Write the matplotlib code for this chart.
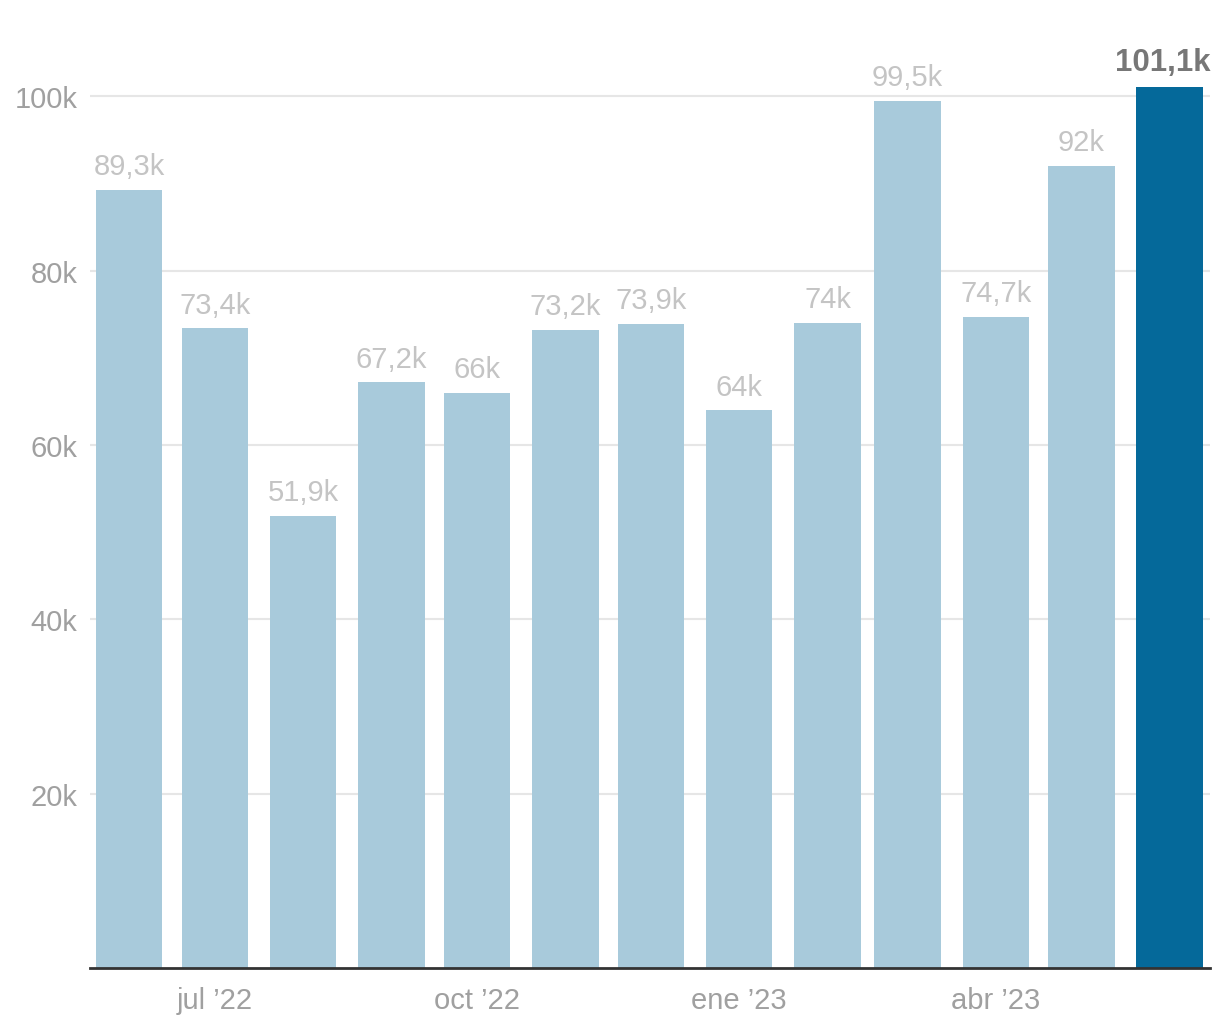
import pandas as pd
import matplotlib
matplotlib.use("Agg")
import matplotlib.dates as mdates
from matplotlib import pyplot as plt

plt.rcParams['font.family'] = ['Liberation Sans', 'DejaVu Sans']

# monthly values, thousands
months = pd.date_range('2022-06-01', periods=13, freq='MS')
values = [89.3, 73.4, 51.9, 67.2, 66.0, 73.2, 73.9, 64.0, 74.0, 99.5, 74.7, 92.0, 101.1]
tick_idx = [1, 4, 7, 10]
tick_labels = ['jul \u201922', 'oct \u201922', 'ene \u201923', 'abr \u201923']
yticks = [20, 40, 60, 80, 100]

light = '#a8cadb'
dark = '#05699a'
bar_w = 23.3


def fmt(v):
    if v == int(v):
        return '%dk' % v
    return ('%.1fk' % v).replace('.', ',')


fig = plt.figure(figsize=(12.2, 10.2), dpi=100)
ax = fig.add_axes([90 / 1220, 51 / 1020, 1120 / 1220, 970 / 1020])

x = mdates.date2num(months) + 1
colors = [light] * (len(values) - 1) + [dark]
ax.bar(x, values, width=bar_w, align='edge', color=colors, zorder=2)

for i, (xi, v) in enumerate(zip(x, values)):
    last = i == len(values) - 1
    ax.annotate(fmt(v), (xi + bar_w / 2, v), xytext=(-5 if last else 0, 7),
                textcoords='offset points', ha='center', va='bottom',
                fontsize=22.5 if last else 21,
                color='#777777' if last else '#c4c4c4',
                fontweight='bold' if last else 'normal')

ax.set_xlim(mdates.date2num(months[0]) - 1.1, x[-1] + bar_w + 2.5)
ax.set_ylim(0, 111.3)

ax.set_xticks([x[i] + bar_w / 2 for i in tick_idx])
ax.set_xticklabels(tick_labels)
ax.set_yticks(yticks)
ax.set_yticklabels(['%dk' % t for t in yticks])
ax.tick_params(axis='both', length=0, labelsize=21, labelcolor='#a0a0a0')
ax.tick_params(axis='x', pad=13)
ax.tick_params(axis='y', pad=9)

ax.grid(axis='y', color='#e6e6e6', linewidth=1.5, zorder=0)
for s in ['top', 'right', 'left']:
    ax.spines[s].set_visible(False)
ax.spines['bottom'].set_color('#333333')
ax.spines['bottom'].set_linewidth(2)
ax.spines['bottom'].set_zorder(3)

fig.savefig('out.png', dpi=100)
